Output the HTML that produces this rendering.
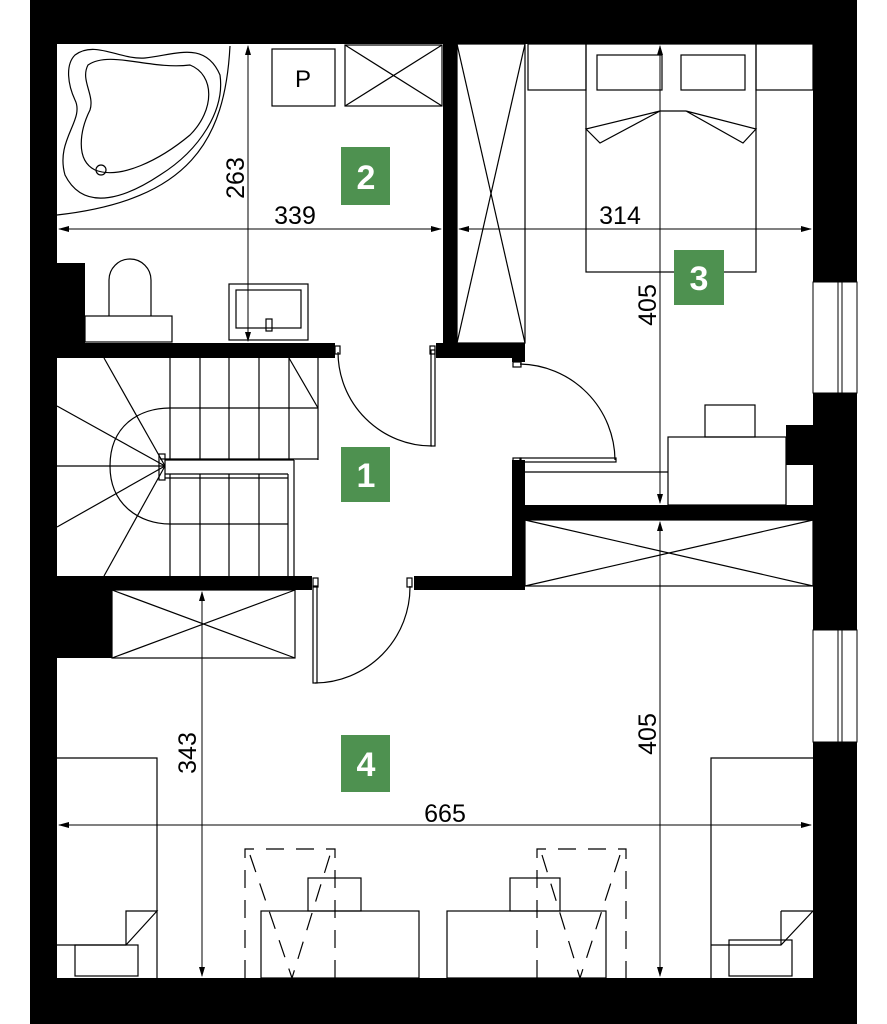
<!DOCTYPE html>
<html><head><meta charset="utf-8"><style>
html,body{margin:0;padding:0;background:#fff}
svg{display:block}
text{font-family:"Liberation Sans",sans-serif}
</style></head><body>
<svg width="887" height="1024" viewBox="0 0 887 1024" xmlns="http://www.w3.org/2000/svg">
<rect x="0" y="0" width="887" height="1024" fill="#fff"/>
<rect x="30" y="0" width="827" height="1024" fill="#000"/>
<g fill="#fff">
<rect x="57" y="44" width="386" height="299"/>
<rect x="457" y="44" width="356" height="299"/>
<rect x="525" y="343" width="288" height="162"/>
<rect x="57" y="358" width="455" height="218"/>
<rect x="500" y="362" width="30" height="98"/>
<rect x="335" y="343" width="101" height="20"/>
<rect x="525" y="520" width="288" height="70"/>
<rect x="57" y="590" width="756" height="388"/>
<rect x="312" y="576" width="102" height="20"/>
</g>
<g fill="#000">
<rect x="57" y="263" width="28" height="80"/>
<rect x="443" y="44" width="14" height="314"/>
<rect x="436" y="343" width="89" height="15"/>
<rect x="512" y="358" width="13" height="4"/>
<rect x="512" y="460" width="13" height="130"/>
<rect x="512" y="505" width="301" height="15"/>
<rect x="414" y="576" width="111" height="14"/>
<rect x="57" y="576" width="255" height="14"/>
<rect x="57" y="590" width="55" height="68"/>
<rect x="786" y="425" width="27" height="40"/>
<rect x="57" y="343" width="278" height="15"/>
</g>
<g fill="#fff" stroke="#000" stroke-width="1">
<rect x="813" y="282" width="44" height="111"/>
<rect x="813" y="630" width="44" height="112"/>
</g>
<g stroke="#000" stroke-width="1">
<line x1="838" y1="282" x2="838" y2="393"/><line x1="842" y1="282" x2="842" y2="393"/>
<line x1="838" y1="630" x2="838" y2="742"/><line x1="842" y1="630" x2="842" y2="742"/>
</g>
<g fill="none" stroke="#000" stroke-width="1.2">
<path d="M230,46 C225,140 190,200 57,215"/>
<path d="M75,55 C95,40 120,60 145,58 C175,55 205,40 220,75 C225,110 200,150 160,175 C130,195 85,215 65,175 C55,140 85,120 75,100 C68,85 65,65 75,55Z"/>
<path d="M88,65 C110,50 150,70 190,65 C215,75 215,110 190,135 C160,160 120,180 95,170 C75,160 80,130 90,110 C95,95 80,80 88,65Z"/>
<circle cx="101" cy="170" r="5"/>
<rect x="272" y="49" width="63" height="57"/>
<rect x="345" y="45" width="97" height="61"/>
<line x1="345" y1="45" x2="442" y2="106"/><line x1="442" y1="45" x2="345" y2="106"/>
<rect x="85" y="316" width="87" height="26"/>
<path d="M109,316 V280 A21,21 0 0 1 151,280 V316"/>
<rect x="229" y="284" width="79" height="56"/>
<rect x="236" y="290" width="65" height="38"/>
<rect x="266" y="319" width="6" height="12"/>
<rect x="457" y="44" width="68" height="299"/>
<line x1="457" y1="44" x2="525" y2="343"/><line x1="525" y1="44" x2="457" y2="343"/>
<line x1="170" y1="358" x2="170" y2="460"/><line x1="200" y1="358" x2="200" y2="460"/><line x1="229" y1="358" x2="229" y2="460"/><line x1="259" y1="358" x2="259" y2="460"/><line x1="289" y1="358" x2="289" y2="460"/>
<line x1="318" y1="358" x2="318" y2="460"/>
<line x1="170" y1="408" x2="318" y2="408"/>
<line x1="289" y1="358" x2="318" y2="408"/>
<line x1="160" y1="459" x2="318" y2="459"/>
<rect x="159" y="454" width="6" height="26"/>
<line x1="165" y1="460" x2="294" y2="460"/><line x1="165" y1="474" x2="288" y2="474"/><line x1="165" y1="478" x2="288" y2="478"/>
<line x1="294" y1="460" x2="294" y2="576"/><line x1="288" y1="474" x2="288" y2="576"/>
<line x1="170" y1="474" x2="170" y2="576"/><line x1="200" y1="474" x2="200" y2="576"/><line x1="229" y1="474" x2="229" y2="576"/><line x1="259" y1="474" x2="259" y2="576"/>
<line x1="170" y1="524" x2="288" y2="524"/>
<path d="M170,408 C140,408 110,425 110,466 C110,505 140,524 170,524"/>
<line x1="165" y1="466" x2="104" y2="358"/><line x1="165" y1="466" x2="57" y2="406"/><line x1="165" y1="466" x2="57" y2="466"/><line x1="165" y1="466" x2="57" y2="527"/><line x1="165" y1="466" x2="104" y2="576"/>
<path d="M338,352 A94,94 0 0 0 432,446"/>
<rect x="431" y="350" width="4" height="96"/>
<rect x="335" y="346" width="5" height="8"/><rect x="430" y="346" width="5" height="8"/>
<path d="M520,364 A97,97 0 0 1 615,460"/>
<rect x="520" y="458" width="96" height="4"/>
<rect x="513" y="362" width="8" height="5"/><rect x="513" y="458" width="8" height="5"/>
<path d="M410,586 A96,96 0 0 1 315,683"/>
<rect x="313" y="586" width="4" height="97"/>
<rect x="313" y="578" width="5" height="9"/><rect x="407" y="578" width="5" height="9"/>
<rect x="528" y="44" width="58" height="46"/><rect x="756" y="44" width="57" height="46"/>
<rect x="586" y="44" width="170" height="228"/>
<rect x="597" y="55" width="65" height="35"/><rect x="681" y="55" width="64" height="35"/>
<path d="M586,129 L660,111 L600,143 Z"/><path d="M756,129 L686,111 L743,143 Z"/>
<line x1="660" y1="111" x2="686" y2="111"/>
<rect x="668" y="437" width="118" height="68"/>
<rect x="705" y="405" width="50" height="32"/>
<line x1="525" y1="472" x2="668" y2="472"/>
<rect x="525" y="520" width="288" height="66"/>
<line x1="525" y1="520" x2="813" y2="586"/><line x1="813" y1="520" x2="525" y2="586"/>
<rect x="112" y="590" width="183" height="68"/>
<line x1="112" y1="590" x2="295" y2="658"/><line x1="295" y1="590" x2="112" y2="658"/>
<path d="M57,758 H157 V978"/>
<path d="M57,945 H126 L157,911 H126 V945"/>
<rect x="75" y="945" width="63" height="31"/>
<path d="M813,758 H711 V978"/>
<path d="M813,911 L781,945 H711"/>
<line x1="781" y1="911" x2="813" y2="911"/><line x1="781" y1="911" x2="781" y2="945"/>
<rect x="729" y="940" width="63" height="36"/>
<rect x="261" y="911" width="158" height="67"/>
<rect x="447" y="911" width="159" height="67"/>
<rect x="308" y="878" width="53" height="33"/>
<rect x="510" y="878" width="50" height="33"/>
</g>
<g fill="none" stroke="#000" stroke-width="1.2" stroke-dasharray="18,12">
<path d="M245,978 V849 H335 V978"/>
<path d="M537,978 V849 H626 V978"/>
<path d="M250,855 L292,978 L330,855"/>
<path d="M542,855 L580,978 L620,855"/>
</g>
<g stroke="#000" stroke-width="1">
<line x1="248" y1="46" x2="248" y2="341"/>
<line x1="59" y1="229" x2="441" y2="229"/>
<line x1="459" y1="229" x2="811" y2="229"/>
<line x1="660" y1="46" x2="660" y2="503"/>
<line x1="660" y1="522" x2="660" y2="976"/>
<line x1="202" y1="592" x2="202" y2="976"/>
<line x1="59" y1="825" x2="811" y2="825"/>
</g>
<g fill="#000">
<path d="M248,45 l-3,10 h6z"/><path d="M248,342 l-3,-10 h6z"/>
<path d="M58,229 l11,-3 v6z"/><path d="M442,229 l-11,-3 v6z"/>
<path d="M458,229 l11,-3 v6z"/><path d="M812,229 l-11,-3 v6z"/>
<path d="M660,45 l-3,10 h6z"/><path d="M660,504 l-3,-10 h6z"/>
<path d="M660,521 l-3,10 h6z"/><path d="M660,977 l-3,-10 h6z"/>
<path d="M202,591 l-3,10 h6z"/><path d="M202,977 l-3,-10 h6z"/>
<path d="M58,825 l11,-3 v6z"/><path d="M812,825 l-11,-3 v6z"/>
</g>
<g font-size="25" fill="#000">
<text x="303" y="87" text-anchor="middle" font-size="24">P</text>
<text x="295" y="224" text-anchor="middle">339</text>
<text x="620" y="224" text-anchor="middle">314</text>
<text x="445" y="822" text-anchor="middle">665</text>
<text transform="translate(244,178) rotate(-90)" text-anchor="middle">263</text>
<text transform="translate(656,305) rotate(-90)" text-anchor="middle">405</text>
<text transform="translate(196,753) rotate(-90)" text-anchor="middle">343</text>
<text transform="translate(656,734) rotate(-90)" text-anchor="middle">405</text>
</g>
<g fill="#4e9150">
<rect x="341" y="147" width="49" height="58"/>
<rect x="341" y="447" width="49" height="55"/>
<rect x="674" y="250" width="50" height="55"/>
<rect x="341" y="735" width="49" height="57"/>
</g>
<g fill="#fff" font-size="34" font-weight="bold" text-anchor="middle">
<text x="366" y="189">2</text>
<text x="366" y="487">1</text>
<text x="699" y="290">3</text>
<text x="366" y="776">4</text>
</g>
</svg>
</body></html>
